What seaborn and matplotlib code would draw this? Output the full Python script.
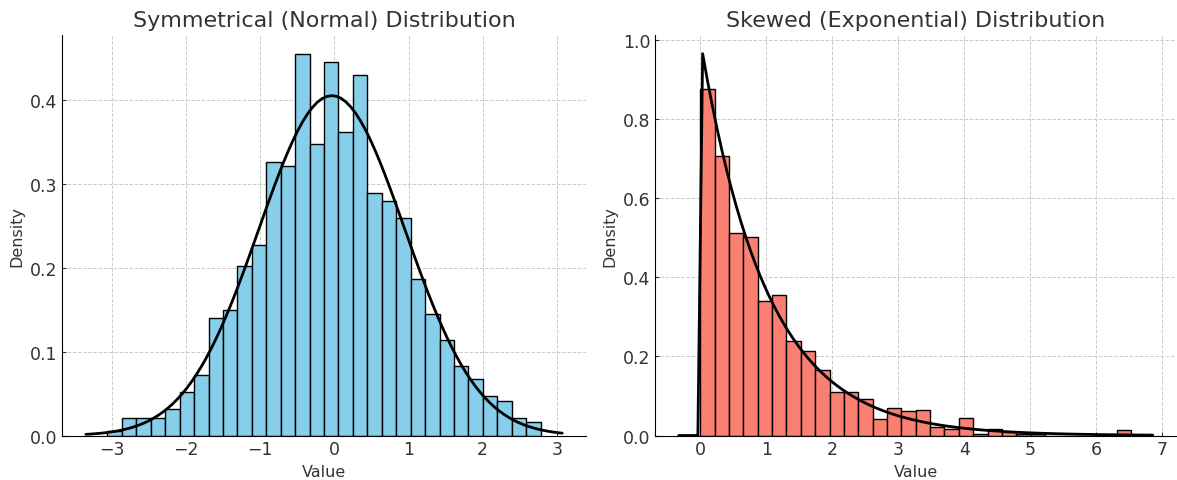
import numpy as np
import pandas as pd
import matplotlib
matplotlib.use("Agg")
import matplotlib.pyplot as plt
import seaborn as sns

# ---------------- DATA ----------------
# left panel: normal sample, 30 bins, density per bin
normal_lo, normal_hi = -3.06, 2.78
normal_density = [0.005, 0.021, 0.021, 0.021, 0.031, 0.052, 0.072, 0.140, 0.150, 0.202,
                  0.2275, 0.326, 0.321, 0.455, 0.347, 0.445, 0.362, 0.430, 0.289, 0.279,
                  0.259, 0.186, 0.145, 0.114, 0.083, 0.067, 0.047, 0.0415, 0.021, 0.0157]
normal_mu, normal_sigma = -0.035, 0.985

# right panel: exponential sample, 30 bins, density per bin
expo_lo, expo_hi = 0.0, 6.53
expo_density = [0.874, 0.705, 0.511, 0.501, 0.3405, 0.355, 0.239, 0.213, 0.166, 0.110,
                0.110, 0.0925, 0.042, 0.0698, 0.063, 0.064, 0.022, 0.0168, 0.0454, 0.0046,
                0.0168, 0.0092, 0.0046, 0.0046, 0.0, 0.0, 0.0, 0.0, 0.0, 0.0147]
expo_rate = 1.0

titles = ["Symmetrical (Normal) Distribution", "Skewed (Exponential) Distribution"]

# ---------------- STYLE ----------------
sns.set_style("white")
plt.rcParams["font.family"] = ["DejaVu Sans"]
plt.rcParams.update({
    "axes.grid": True,
    "grid.linestyle": "--",
    "grid.color": "#cccccc",
    "grid.linewidth": 0.7,
    "axes.edgecolor": "black",
    "axes.spines.top": False,
    "axes.spines.right": False,
    "xtick.direction": "in",
    "ytick.direction": "in",
    "xtick.bottom": True,
    "ytick.left": True,
    "xtick.color": "#333333",
    "ytick.color": "#333333",
    "text.color": "#333333",
    "axes.labelcolor": "#333333",
})

fig = plt.figure(figsize=(11.77, 4.81), dpi=100)
ax1 = fig.add_axes([0.0527, 0.0925, 0.4452, 0.8335])
ax2 = fig.add_axes([0.5565, 0.0925, 0.4430, 0.8335])


def draw_panel(ax, lo, hi, density, color, pdf, title):
    nbins = len(density)
    width = (hi - lo) / nbins
    df = pd.DataFrame({
        "center": lo + width * (np.arange(nbins) + 0.5),
        "density": density,
    })
    sns.histplot(data=df, x="center", weights="density", bins=nbins, binrange=(lo, hi),
                 stat="count", color=color, edgecolor="black", linewidth=1, alpha=1, ax=ax)
    # fitted pdf drawn across the current x range
    xmin, xmax = ax.get_xlim()
    xs = np.linspace(xmin, xmax, 100)
    ax.plot(xs, pdf(xs), color="black", linewidth=2)
    ax.set_title(title, fontsize=16)
    ax.set_xlabel("Value", fontsize=11.5)
    ax.set_ylabel("Density", fontsize=11.5)
    ax.tick_params(labelsize=12.5, length=3)
    ax.set_axisbelow(True)


def normal_pdf(x):
    return np.exp(-(x - normal_mu) ** 2 / (2 * normal_sigma ** 2)) / (normal_sigma * np.sqrt(2 * np.pi))


def expo_pdf(x):
    return np.where(x >= 0, expo_rate * np.exp(-expo_rate * np.clip(x, 0, None)), 0.0)


draw_panel(ax1, normal_lo, normal_hi, normal_density, "skyblue", normal_pdf, titles[0])
draw_panel(ax2, expo_lo, expo_hi, expo_density, "salmon", expo_pdf, titles[1])

plt.savefig("out.png", dpi=100)
plt.close()
